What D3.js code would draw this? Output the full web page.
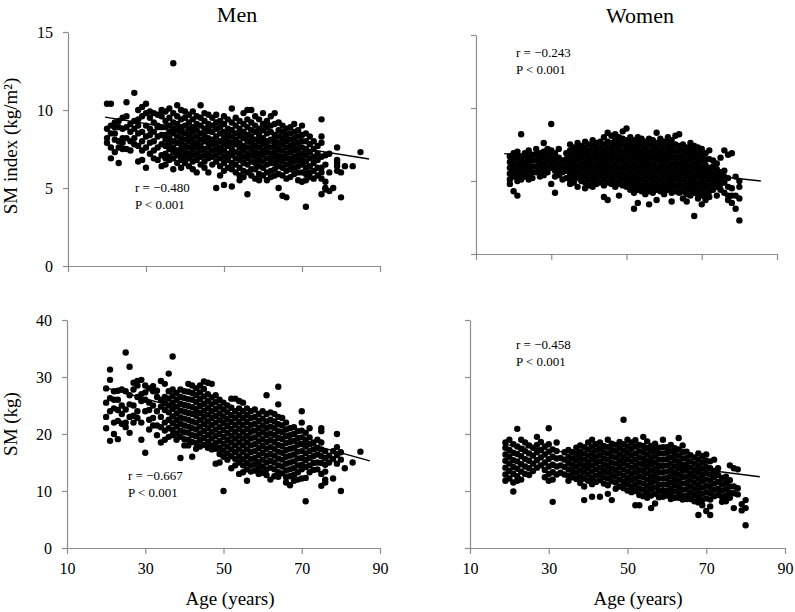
<!DOCTYPE html>
<html><head><meta charset="utf-8">
<script src="https://cdn.jsdelivr.net/npm/d3@7"></script>
<style>body{margin:0;background:#fff}svg{display:block}text{font-family:"Liberation Serif","Times New Roman",serif;fill:#000}</style>
</head><body>
<svg id="c" width="795" height="612"></svg>
<script>
// ---- tick labels ----
const xTicks = [10, 30, 50, 70, 90];
const yTicksIndex = [0, 5, 10, 15];
const yTicksMass = [0, 10, 20, 30, 40];

// ---- Men, SM index (kg/m2): [age, values...] ----
const menIndex = [
[20,[10.4,8.2,7.9,8.8]],[21,[10.4,6.9,9.0,8.5,7.6]],[22,[8.9,8.1,7.3,8.5,9.2]],[23,[6.6,8.9,8.0,7.6,9.3]],
[24,[8.2,7.5,8.8,9.5,7.9]],[25,[10.5,8.9,7.5,8.2,9.6]],[26,[9.1,8.0,7.4,8.6]],[27,[11.1,9.3,8.2,7.8,8.8]],
[28,[10.0,9.4,8.5,7.7,6.7,9.0]],[29,[10.2,9.6,8.0,6.8,8.6,7.4]],[30,[10.4,9.0,8.3,6.3,7.6,9.8]],
[31,[9.5,8.8,7.9,7.2,8.4,9.9]],[32,[9.8,8.0,7.4,8.6,9.2,6.9]],[33,[9.0,8.3,7.6,6.8,9.7,8.9]],
[34,[9.6,8.4,7.8,7.1,8.9,6.4,10.0]],
[35,[9.9,9.3,8.9,8.4,8.1,7.7,7.2,6.9,6.5]],[36,[10.1,9.5,9.0,8.6,8.2,7.9,7.5,7.0,6.8]],
[37,[13.0,9.8,9.2,8.8,8.5,8.0,7.6,7.3,6.9,6.2]],[38,[10.3,9.6,9.1,8.7,8.3,7.9,7.4,7.1,6.6]],
[39,[10.0,9.4,8.9,8.6,8.2,7.8,7.5,7.2,6.8,6.3]],[40,[9.9,9.5,9.0,8.5,8.1,7.7,7.3,7.0,6.6]],
[41,[9.7,9.2,8.8,8.4,8.0,7.6,7.2,6.9,6.4]],[42,[9.9,9.4,8.9,8.6,8.2,7.8,7.5,7.1,6.7,6.2]],
[43,[9.6,9.1,8.7,8.3,7.9,7.6,7.2,6.8,6.0]],[44,[10.3,9.5,9.0,8.5,8.1,7.7,7.4,7.0,6.5]],
[45,[9.8,9.3,8.8,8.4,8.0,7.5,7.1,6.7,6.3]],[46,[9.7,9.1,8.7,8.2,7.9,7.6,7.2,6.9,6.0]],
[47,[9.5,9.0,8.6,8.1,7.8,7.4,7.0,6.5]],[48,[9.7,9.2,8.8,8.3,7.9,7.5,7.1,6.7,5.0]],
[49,[9.3,8.9,8.5,8.0,7.6,7.3,6.9,6.4,5.8]],[50,[9.6,9.1,8.6,8.2,7.8,7.4,7.0,6.6,6.1,5.2]],
[51,[9.4,8.8,8.4,8.0,7.7,7.2,6.8,6.3]],[52,[10.1,9.2,8.7,8.3,7.9,7.5,7.1,6.6,6.2,5.1]],
[53,[9.5,9.0,8.5,8.1,7.8,7.3,6.9,6.5,6.0]],[54,[9.3,8.8,8.4,7.9,7.6,7.2,6.8,6.3,5.8,5.5]],
[55,[9.8,9.1,8.6,8.2,7.7,7.4,7.0,6.6,6.1,5.7]],[56,[10.0,9.4,8.9,8.4,8.0,7.6,7.2,6.9,6.5,6.0,4.6]],
[57,[10.0,9.2,8.7,8.3,7.9,7.5,7.1,6.7,6.2,5.8]],[58,[9.6,9.0,8.6,8.1,7.7,7.3,7.0,6.6,6.2,5.6]],
[59,[9.4,8.8,8.4,8.0,7.6,7.2,6.8,6.4,5.9,5.5]],[60,[9.8,9.1,8.7,8.2,7.8,7.4,7.1,6.7,6.3,5.8]],
[61,[9.3,8.9,8.5,8.0,7.7,7.3,6.9,6.5,6.0,5.5]],[62,[9.6,9.0,8.6,8.1,7.6,7.2,6.9,6.6,6.1,5.7]],
[63,[9.8,9.1,8.4,8.0,7.7,7.3,7.0,6.6,6.2,5.8]],[64,[9.2,8.7,8.3,7.9,7.5,7.1,6.8,6.4,5.9,5.0]],
[65,[9.0,8.6,8.2,7.8,7.4,7.0,6.7,6.3,5.8,4.5]],[66,[8.8,8.4,8.0,7.6,7.2,6.9,6.5,6.1,5.6,4.4]],
[67,[8.9,8.5,8.1,7.7,7.3,6.9,6.6,6.2,5.7]],[68,[9.1,8.6,8.2,7.8,7.4,7.0,6.7,6.3,5.9]],
[69,[8.7,8.3,7.9,7.5,7.1,6.8,6.4,6.0,5.5]],[70,[9.0,8.4,8.0,7.6,7.2,6.8,6.5,6.0,5.4]],
[71,[8.5,8.0,7.5,7.1,6.7,6.3,5.9,5.5,3.8]],[72,[8.3,7.8,7.3,6.9,6.4,6.0,5.7]],[73,[8.0,7.5,7.0,6.6,6.1,5.6]],
[74,[7.7,7.2,6.8,6.3,5.8]],[75,[9.4,8.3,7.9,7.0,6.3,6.0,5.6,4.6]],[76,[7.1,6.5,5.4,5.0,4.9]],
[77,[7.2,6.0,4.8]],[78,[5.0]],[79,[7.6,6.8,6.4,6.1,6.6]],[80,[6.0,4.4]],[81,[6.4]],[83,[6.4]],[85,[7.3]]
];
const menIndexFit = [[19.5, 9.55], [87.2, 6.86]];

// ---- Women, SM index (kg/m2) ----
const womenIndex = [
[19,[6.7,6.3,5.9,5.5,5.1,4.8]],[20,[6.9,6.5,6.1,5.7,5.3,4.3]],[21,[7.0,6.6,6.2,5.8,5.4,5.0,4.0]],
[22,[8.2,6.7,6.3,5.9,5.5,5.1]],[23,[6.9,6.5,6.1,5.7,5.3]],[24,[7.1,6.7,6.3,5.9,5.5,5.1]],
[25,[6.8,6.4,6.0,5.6,5.2]],[26,[7.2,6.8,6.4,6.0,5.6]],[27,[6.9,6.5,6.1,5.7,5.3]],
[28,[7.6,7.0,6.6,6.2,5.8,5.4]],[29,[7.2,6.8,6.4,6.0,5.6]],[30,[8.9,7.1,6.7,6.3,5.9,4.8]],
[31,[6.9,6.5,6.1,5.7,5.3,4.2]],[32,[7.2,6.6,6.2,5.8,5.4]],[33,[6.4,6.0,5.6,5.1]],[34,[6.9,6.5,6.1,5.7,5.2]],
[35,[7.5,7.1,6.7,6.3,5.9,5.5,5.1,4.8]],[36,[7.3,6.9,6.5,6.1,5.7,5.3,4.9]],
[37,[7.6,7.2,6.8,6.4,6.0,5.6,5.2,4.6]],[38,[7.4,7.0,6.6,6.2,5.8,5.4,5.0]],
[39,[7.7,7.3,6.9,6.5,6.1,5.7,5.3,4.9,4.5]],[40,[7.5,7.1,6.7,6.3,5.9,5.5,5.1,4.7]],
[41,[7.8,7.4,7.0,6.6,6.2,5.8,5.4,5.0,4.6]],[42,[7.6,7.2,6.8,6.4,6.0,5.6,5.2,4.8]],
[43,[7.7,7.3,6.9,6.5,6.1,5.7,5.3,4.9]],[44,[8.0,7.5,7.1,6.7,6.3,5.9,5.5,5.1,4.7,3.9]],
[45,[8.3,7.7,7.3,6.9,6.5,6.1,5.7,5.3,4.9,3.7]],[46,[8.1,7.6,7.2,6.8,6.4,6.0,5.6,5.2,4.8]],
[47,[8.2,7.8,7.4,7.0,6.6,6.2,5.8,5.4,5.0,4.6]],[48,[8.0,7.6,7.2,6.8,6.4,6.0,5.6,5.2,4.8,4.0]],
[49,[8.4,7.9,7.5,7.1,6.7,6.3,5.9,5.5,5.1,4.7]],[50,[8.6,7.8,7.4,7.0,6.6,6.2,5.8,5.4,5.0,4.6]],
[51,[8.0,7.6,7.2,6.8,6.4,6.0,5.6,5.2,4.8,4.4]],[52,[7.8,7.4,7.0,6.6,6.2,5.8,5.4,5.0,4.6,4.2,3.1]],
[53,[8.0,7.6,7.2,6.8,6.4,6.0,5.6,5.2,4.8,4.4,3.5]],[54,[7.9,7.5,7.1,6.7,6.3,5.9,5.5,5.1,4.7,4.3]],
[55,[7.7,7.3,6.9,6.5,6.1,5.7,5.3,4.9,4.5,4.1]],[56,[7.9,7.5,7.1,6.7,6.3,5.9,5.5,5.1,4.7,4.3,3.4]],
[57,[7.8,7.4,7.0,6.6,6.2,5.8,5.4,5.0,4.6,4.2]],[58,[8.3,7.6,7.2,6.8,6.4,6.0,5.6,5.2,4.8,4.4,3.7]],
[59,[7.9,7.5,7.1,6.7,6.3,5.9,5.5,5.1,4.7,4.3]],[60,[7.7,7.3,6.9,6.5,6.1,5.7,5.3,4.9,4.5,4.1]],
[61,[8.0,7.6,7.2,6.8,6.4,6.0,5.6,5.2,4.8,4.4]],[62,[7.8,7.4,7.0,6.6,6.2,5.8,5.4,5.0,4.6,4.2,3.6]],
[63,[8.1,7.5,7.1,6.7,6.3,5.9,5.5,5.1,4.7,4.3]],[64,[8.2,7.4,7.0,6.6,6.2,5.8,5.4,5.0,4.6,4.2]],
[65,[7.5,7.1,6.7,6.3,5.9,5.5,5.1,4.7,4.3,3.8]],[66,[7.3,6.9,6.5,6.1,5.7,5.3,4.9,4.5,4.1,3.6]],
[67,[7.6,7.2,6.8,6.4,6.0,5.6,5.2,4.8,4.4,4.0]],[68,[7.4,7.0,6.6,6.2,5.8,5.4,5.0,4.6,4.2,2.6]],
[69,[7.3,6.9,6.5,6.1,5.7,5.3,4.9,4.5,4.1,3.8]],[70,[7.2,6.8,6.4,6.0,5.6,5.2,4.8,4.4,4.0,3.4]],
[71,[6.9,6.5,6.1,5.7,5.3,4.9,4.5,4.1,3.7]],[72,[7.1,6.5,5.9,5.5,5.1,4.7,4.3,3.9]],
[73,[6.4,6.0,5.6,5.2,4.8,4.4]],[74,[6.2,5.8,5.4,5.0,4.6,4.0]],[75,[6.6,5.6,5.2,4.8,4.4]],
[76,[7.1,5.7,5.3,4.9,4.2]],[77,[6.8,5.2,4.6,4.0,3.7]],[78,[6.9,4.5,4.0,3.5]],[79,[5.3,4.0,3.1]],
[80,[5.0,4.6,3.8,2.3]]
];
const womenIndexFit = [[17.5, 6.88], [85.7, 5.0]];

// ---- Men, SM (kg) ----
const menMass = [
[20,[28.0,25.5,23.0,21.0]],[21,[31.3,29.5,26.3,24.0,18.8]],[22,[27.5,26.0,24.5,22.0,20.0]],
[23,[27.6,26.0,24.2,22.3,19.1]],[24,[27.8,25.0,23.5,21.8]],[25,[34.3,27.5,24.3,22.0,21.2]],
[26,[31.8,26.8,25.2,23.0,20.2]],[27,[29.0,27.8,25.0,23.2,22.0]],[28,[29.3,28.5,26.5,24.0,22.8]],
[29,[29.5,27.0,25.8,22.0,19.0]],[30,[28.5,27.3,26.0,24.0,16.7]],[31,[28.0,25.5,24.2,22.5,20.8]],
[32,[28.4,27.5,25.0,22.8,21.5]],[33,[27.6,26.5,24.0,21.5,19.8]],[34,[29.3,26.0,24.8,23.0,21.2,18.5]],
[35,[28.8,26.5,25.4,24.2,22.0,20.6,19.0]],[36,[30.6,27.5,26.2,25.0,23.8,22.5,21.0,19.5]],
[37,[33.6,27.8,26.7,25.5,24.4,23.1,21.9,20.7,19.8]],[38,[27.2,26.0,24.8,23.6,22.4,21.3,20.1,19.0]],
[39,[27.8,26.5,25.3,24.1,22.9,21.8,20.6,19.5,15.8]],[40,[27.5,26.3,25.1,23.9,22.7,21.5,20.3,19.1,18.0]],
[41,[28.8,27.4,26.1,24.9,23.7,22.5,21.3,20.2,19.0,18.0]],[42,[28.5,27.2,26.0,24.7,23.5,22.2,21.0,19.8,18.6,16.0]],
[43,[28.0,26.8,25.6,24.4,23.2,22.0,20.8,19.6,18.4,17.4]],[44,[28.5,27.3,26.1,24.9,23.7,22.5,21.3,20.1,18.9,17.8]],
[45,[29.2,27.9,26.6,25.3,24.1,22.9,21.7,20.5,19.3,18.1]],[46,[29.0,27.0,25.8,24.6,23.4,22.2,21.0,19.8,18.6,17.6]],
[47,[28.8,26.4,25.2,24.0,22.8,21.6,20.4,19.2,18.0,17.3]],[48,[26.8,25.6,24.4,23.2,22.0,20.8,19.6,18.4,17.4,14.8]],
[49,[26.0,24.8,23.6,22.4,21.2,20.0,18.8,17.6,16.5,15.0]],[50,[25.5,24.3,23.1,21.9,20.7,19.5,18.3,17.1,16.0,10.0]],
[51,[25.0,23.8,22.6,21.4,20.2,19.0,17.8,16.6,15.5]],[52,[26.2,24.6,23.3,22.1,20.9,19.7,18.5,17.3,16.1,14.0]],
[53,[26.2,24.0,22.8,21.6,20.4,19.2,18.0,16.8,15.6,14.5]],[54,[25.8,24.5,23.3,22.1,20.9,19.7,18.5,17.3,16.1,15.0,13.0]],
[55,[25.5,24.0,22.8,21.6,20.4,19.2,18.0,16.8,15.6,14.5,13.3]],[56,[24.5,23.3,22.1,20.9,19.7,18.5,17.3,16.1,14.9,13.8,11.8]],
[57,[24.0,22.8,21.6,20.4,19.2,18.0,16.8,15.6,14.5,13.4]],[58,[24.3,23.0,21.8,20.6,19.4,18.2,17.0,15.8,14.7,13.6]],
[59,[23.5,22.3,21.1,19.9,18.7,17.5,16.3,15.1,14.0,13.0]],[60,[24.0,22.7,21.5,20.3,19.1,17.9,16.7,15.5,14.3,13.2]],
[61,[26.8,23.5,22.2,21.0,19.8,18.6,17.4,16.2,15.0,13.8,12.8]],[62,[23.8,22.5,21.3,20.1,18.9,17.7,16.5,15.3,14.1,12.0]],
[63,[23.5,22.2,21.0,19.8,18.6,17.4,16.2,15.0,13.8,12.6]],[64,[28.3,25.2,23.0,21.7,20.5,19.3,18.1,16.9,15.7,14.5,13.3,12.5]],
[65,[22.8,21.5,20.3,19.1,17.9,16.7,15.5,14.3,13.1]],[66,[22.0,20.8,19.6,18.4,17.2,16.0,14.8,13.6,12.4,11.5]],
[67,[21.0,19.8,18.6,17.4,16.2,15.0,13.8,12.6,11.0]],[68,[21.2,20.0,18.8,17.6,16.4,15.2,14.0,12.8,11.8]],
[69,[20.5,19.3,18.1,16.9,15.7,14.5,13.3,12.0]],[70,[24.0,22.0,20.6,19.4,18.2,17.0,15.8,14.6,13.8,12.2]],
[71,[20.2,19.0,17.8,16.6,15.4,14.2,12.3,8.2]],[72,[21.0,19.4,18.2,17.0,15.8,14.5,13.3]],
[73,[18.5,17.3,16.1,14.9,13.7]],[74,[19.0,17.6,16.4,15.0,13.8]],[75,[21.0,20.5,18.5,17.3,16.1,14.9,13.0,10.9]],
[76,[17.0,15.8,14.6,13.4,12.0,11.5]],[77,[15.0,16.2]],[78,[12.2,17.0,15.6]],[79,[20.0,17.7,16.3,14.8]],
[80,[16.8,15.5,10.0]],[81,[14.0]],[83,[15.0]],[85,[16.9]]
];
const menMassFit = [[20, 28.1], [87.4, 15.3]];

// ---- Women, SM (kg) ----
const womenMass = [
[19,[18.5,17.6,16.4,15.3,14.1,12.9,11.8]],[20,[19.0,17.2,16.0,14.8,13.5,12.2]],
[21,[18.2,16.7,15.4,14.2,13.0,11.5,9.9]],[22,[20.9,17.8,16.5,15.2,13.9,12.6,11.8]],
[23,[19.0,17.4,16.1,14.7,13.4,12.0]],[24,[18.5,17.0,15.6,14.3,13.0]],[25,[18.0,16.6,15.3,14.0,12.8]],
[26,[17.6,16.2,14.8,13.5]],[27,[19.5,18.1,16.8,15.4,14.1]],[28,[18.6,17.2,15.9,14.5]],
[29,[17.8,16.4,15.0,13.7,12.4]],[30,[21.0,18.2,16.9,15.6,14.3,13.0,11.8]],[31,[17.3,16.0,14.6,13.3,12.0,8.1]],
[32,[18.5,17.0,15.7,14.3,12.9]],[33,[15.8,14.5,13.2]],[34,[16.8,15.5,14.2,12.9]],
[35,[17.2,16.0,14.9,13.8,12.7,11.8]],[36,[16.8,15.7,14.6,13.5,12.4]],[37,[17.6,16.5,15.4,14.3,13.2,12.1]],
[38,[18.0,16.9,15.8,14.7,13.6,12.5,11.4]],[39,[17.7,16.6,15.5,14.4,13.3,12.2,10.8,8.4]],
[40,[18.5,17.3,16.2,15.1,14.0,12.9,11.8]],[41,[19.0,17.8,16.7,15.6,14.5,13.4,12.3,11.2,9.0]],
[42,[18.2,17.1,16.0,14.9,13.8,12.7,11.6]],[43,[18.5,17.4,16.3,15.2,14.1,13.0,11.9,9.0]],
[44,[17.9,16.8,15.7,14.6,13.5,12.4,11.3]],[45,[19.0,17.7,16.6,15.5,14.4,13.3,12.2,11.0,9.5]],
[46,[18.3,17.2,16.1,15.0,13.9,12.8,11.7,8.4]],[47,[18.1,17.0,15.9,14.8,13.7,12.6,11.5,10.4]],
[48,[18.6,17.5,16.4,15.3,14.2,13.1,12.0,10.8]],[49,[22.5,18.2,17.1,16.0,14.9,13.8,12.7,11.6,10.5]],
[50,[19.0,17.8,16.7,15.6,14.5,13.4,12.3,11.2,10.1]],[51,[18.5,17.4,16.3,15.2,14.1,13.0,11.9,10.8,9.8]],
[52,[18.9,17.8,16.6,15.5,14.4,13.3,12.2,11.1,10.0,7.5]],[53,[18.1,17.0,15.9,14.8,13.7,12.6,11.5,10.4,9.3,7.5]],
[54,[19.5,17.9,16.8,15.7,14.6,13.5,12.4,11.3,10.2,9.1]],[55,[18.7,17.5,16.4,15.3,14.2,13.1,12.0,10.9,9.8,8.8]],
[56,[17.9,16.9,15.8,14.7,13.6,12.5,11.4,10.3,9.2,7.0]],[57,[18.3,17.2,16.1,15.0,13.9,12.8,11.7,10.6,9.5,7.8]],
[58,[17.6,16.6,15.5,14.4,13.3,12.2,11.1,10.0,8.9]],[59,[19.0,17.7,16.6,15.5,14.4,13.3,12.2,11.1,10.0,9.0]],
[60,[17.7,16.7,15.6,14.5,13.4,12.3,11.2,10.1,9.2]],[61,[18.1,17.0,15.9,14.8,13.7,12.6,11.5,10.4,9.3,8.6]],
[62,[17.5,16.5,15.4,14.3,13.2,12.1,11.0,9.9,8.8]],[63,[19.3,17.3,16.2,15.1,14.0,12.9,11.8,10.7,9.6,8.8]],
[64,[18.0,16.8,15.7,14.6,13.5,12.4,11.3,10.2,9.1,8.5]],[65,[16.9,15.8,14.7,13.6,12.5,11.4,10.3,9.2,8.6]],
[66,[16.3,15.2,14.1,13.0,11.9,10.8,9.7,8.6]],[67,[15.9,14.8,13.7,12.6,11.5,10.4,9.3,8.2]],
[68,[16.6,15.5,14.4,13.3,12.2,11.1,10.0,8.9,8.0,5.8]],[69,[16.1,15.0,13.9,12.8,11.7,10.6,9.5,8.4,7.5]],
[70,[16.4,15.3,14.2,13.1,12.0,10.9,9.8,8.7,6.5]],[71,[15.2,14.0,12.9,11.8,10.7,9.6,8.5,7.3,5.8]],
[72,[15.5,13.5,12.4,11.3,10.2,9.1]],[73,[14.0,12.8,11.6,10.4,9.3]],[74,[12.3,11.2,10.1,9.0,8.1]],
[75,[12.5,11.4,10.3,9.2,8.2]],[76,[14.5,11.9,10.8,9.7,8.8]],[77,[14.0,10.8,9.6,7.0]],[78,[13.8,10.5,9.4]],
[79,[7.7,6.6]],[80,[8.4,7.0,4.0]]
];
const womenMassFit = [[18.6, 18.2], [83.6, 12.5]];

const titles = ["Men", "Women"];
const yTitles = ["SM index (kg/m\u00B2)", "SM (kg)"];
const xTitle = "Age (years)";
const stats = [["r = \u22120.480", "P < 0.001"], ["r = \u22120.243", "P < 0.001"],
               ["r = \u22120.667", "P < 0.001"], ["r = \u22120.458", "P < 0.001"]];

// ---- layout ----
const svg = d3.select("#c");
const panels = [
  {data: menIndex, fit: menIndexFit, st: stats[0], xr:[68,380], yr:[266,32], ymax:15, yt:yTicksIndex, yLab:true, xLab:false, sx:135, sy:192},
  {data: womenIndex, fit: womenIndexFit, st: stats[1], xr:[476,777], yr:[254,35], ymax:15, yt:yTicksIndex, yLab:false, xLab:false, sx:516, sy:57},
  {data: menMass, fit: menMassFit, st: stats[2], xr:[67,380], yr:[548,320], ymax:40, yt:yTicksMass, yLab:true, xLab:true, sx:128, sy:480},
  {data: womenMass, fit: womenMassFit, st: stats[3], xr:[470,785], yr:[548,320], ymax:40, yt:yTicksMass, yLab:false, xLab:true, sx:516, sy:349}
];
const axisCol = "#8c8c8c";

panels.forEach(p => {
  const x = d3.scaleLinear().domain([10, 90]).range(p.xr);
  const y = d3.scaleLinear().domain([0, p.ymax]).range(p.yr);
  const g = svg.append("g");

  const ax = g.append("g").attr("transform", `translate(0,${p.yr[0]})`)
    .call(d3.axisBottom(x).tickValues(xTicks).tickSize(6).tickSizeOuter(0).tickFormat(p.xLab ? d3.format("d") : () => ""));
  const ay = g.append("g").attr("transform", `translate(${p.xr[0]},0)`)
    .call(d3.axisLeft(y).tickValues(p.yt).tickSize(5).tickSizeOuter(0).tickPadding(10).tickFormat(p.yLab ? d3.format("d") : () => ""));
  [ax, ay].forEach(a => {
    a.select(".domain").attr("stroke", axisCol).attr("stroke-width", 1.2);
    a.selectAll(".tick line").attr("stroke", axisCol).attr("stroke-width", 1.2);
    a.selectAll("text").attr("font-family", "Liberation Serif").attr("font-size", 16).attr("fill", "#000");
  });
  ax.selectAll("text").attr("dy", "1.05em");
  ay.selectAll("text").attr("dy", "0.35em");

  const pts = [];
  p.data.forEach(([age, vals]) => vals.forEach(v => pts.push([age, v])));
  g.append("g").selectAll("circle").data(pts).join("circle")
    .attr("cx", d => x(d[0])).attr("cy", d => y(d[1])).attr("r", 3.2).attr("fill", "#000");

  g.append("path").datum(p.fit)
    .attr("d", d3.line().x(d => x(d[0])).y(d => y(d[1])))
    .attr("stroke", "#000").attr("stroke-width", 1.3).attr("fill", "none");

  g.append("text").attr("x", p.sx).attr("y", p.sy).attr("font-size", 13).text(p.st[0]);
  g.append("text").attr("x", p.sx).attr("y", p.sy + 17).attr("font-size", 13).text(p.st[1]);
});

svg.append("text").attr("x", 237).attr("y", 22).attr("text-anchor", "middle").attr("font-size", 22).text(titles[0]);
svg.append("text").attr("x", 640).attr("y", 23).attr("text-anchor", "middle").attr("font-size", 22).text(titles[1]);
svg.append("text").attr("transform", "translate(17,146) rotate(-90)").attr("text-anchor", "middle").attr("font-size", 19).text(yTitles[0]);
svg.append("text").attr("transform", "translate(17,424) rotate(-90)").attr("text-anchor", "middle").attr("font-size", 19).text(yTitles[1]);
svg.append("text").attr("x", 230).attr("y", 605).attr("text-anchor", "middle").attr("font-size", 19).text(xTitle);
svg.append("text").attr("x", 638).attr("y", 605).attr("text-anchor", "middle").attr("font-size", 19).text(xTitle);
</script>
</body></html>
